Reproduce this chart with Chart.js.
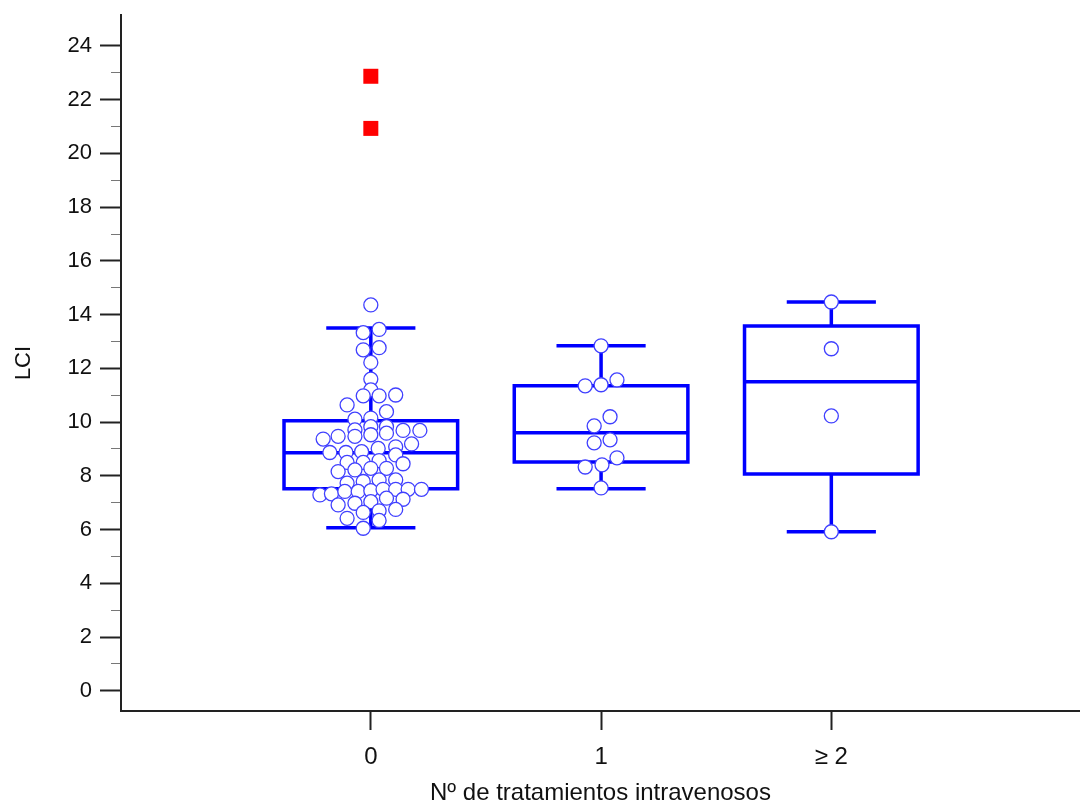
<!DOCTYPE html>
<html>
<head>
<meta charset="utf-8">
<script src="https://cdn.jsdelivr.net/npm/chart.js@4.4.1/dist/chart.umd.min.js"></script>
<style>
  html, body { margin: 0; padding: 0; background: #fff; }
  #wrap { width: 1080px; height: 802px; position: relative; }
</style>
</head>
<body>
<div id="wrap"><canvas id="lci"></canvas></div>
<script>
// categories
const groups = ['0', '1', '≥ 2'];

// box statistics per group
const q1 = [7.52, 8.52, 8.07];
const median = [8.86, 9.6, 11.5];
const q3 = [10.05, 11.35, 13.58];
const whiskerLow = [6.07, 7.52, 5.92];
const whiskerHigh = [13.5, 12.84, 14.47];

// individual LCI values (and swarm offsets) per group
const lci0 = [14.36, 13.33, 13.45, 12.69, 12.77, 12.22, 11.6, 11.2, 10.98, 10.98, 11.01,
  10.64, 10.39, 10.11, 10.15, 9.83, 9.71, 9.83, 9.53, 9.59, 9.69, 9.69, 9.37, 9.47, 9.47,
  9.19, 8.87, 8.87, 8.9, 9.02, 9.08, 8.78, 8.5, 8.5, 8.57, 8.45, 8.16, 8.22, 8.28, 8.28,
  7.73, 7.79, 7.85, 7.85, 7.29, 7.33, 7.42, 7.42, 7.45, 7.5, 7.5, 7.5, 7.5, 6.92, 6.98,
  7.04, 7.17, 7.13, 6.64, 6.7, 6.75, 6.42, 6.34, 6.05];
const swarm0 = [0, -0.033, 0.036, -0.033, 0.036, 0, 0, 0, -0.033, 0.036, 0.108,
  -0.103, 0.068, -0.069, 0, 0.068, -0.069, 0, 0, 0.068, 0.14, 0.213, -0.207, -0.142, -0.069,
  0.177, -0.178, -0.108, -0.04, 0.032, 0.108, 0.108, -0.103, -0.033, 0.036, 0.14, -0.142, -0.069, 0, 0.068,
  -0.103, -0.033, 0.036, 0.108, -0.221, -0.171, -0.113, -0.055, 0, 0.053, 0.108, 0.162, 0.22, -0.142, -0.069,
  0, 0.068, 0.14, -0.033, 0.036, 0.108, -0.103, 0.036, -0.033];
const lci1 = [12.84, 11.35, 11.39, 11.57, 10.2, 9.86, 9.23, 9.34, 8.33, 8.41, 8.67, 7.55];
const swarm1 = [0, -0.069, 0, 0.069, 0.039, -0.03, -0.03, 0.039, -0.069, 0.004, 0.069, 0];
const lci2 = [14.47, 12.73, 10.23, 5.92];
const swarm2 = [0, 0, 0, 0];

// outliers
const outlierGroup = [0, 0];
const outlierLci = [22.87, 20.93];

// y axis ticks
const yTickValues = [0, 1, 2, 3, 4, 5, 6, 7, 8, 9, 10, 11, 12, 13, 14, 15, 16, 17, 18, 19, 20, 21, 22, 23, 24];

const BLUE = '#0000ff';
const BOX_HALF = 0.377;
const CAP_HALF = 0.186;
const FONT = "'Liberation Sans', Arial, sans-serif";

function boxPath(i) {
  const gap = { x: i, y: null };
  const l = i - BOX_HALF, r = i + BOX_HALF;
  const cl = i - CAP_HALF, cr = i + CAP_HALF;
  return [
    { x: l, y: q1[i] }, { x: r, y: q1[i] }, { x: r, y: q3[i] }, { x: l, y: q3[i] }, { x: l, y: q1[i] }, gap,
    { x: l, y: median[i] }, { x: r, y: median[i] }, gap,
    { x: i, y: q3[i] }, { x: i, y: whiskerHigh[i] }, gap,
    { x: cl, y: whiskerHigh[i] }, { x: cr, y: whiskerHigh[i] }, gap,
    { x: i, y: q1[i] }, { x: i, y: whiskerLow[i] }, gap,
    { x: cl, y: whiskerLow[i] }, { x: cr, y: whiskerLow[i] }
  ];
}

function swarm(g, vals, offs) {
  return vals.map((v, k) => ({ x: g + offs[k], y: v }));
}

const pointStyle = {
  type: 'scatter',
  pointRadius: 7,
  pointHoverRadius: 7,
  pointBackgroundColor: '#ffffff',
  pointBorderColor: '#4040ff',
  pointBorderWidth: 1.3
};

const boxStyle = {
  type: 'line',
  pointRadius: 0,
  borderColor: BLUE,
  borderWidth: 3.5,
  borderCapStyle: 'square',
  spanGaps: false,
  tension: 0,
  fill: false
};

const isMinor = ctx => ctx.tick && ctx.tick.value % 2 !== 0;

new Chart(document.getElementById('lci'), {
  type: 'scatter',
  data: {
    datasets: [
      {
        type: 'scatter',
        data: outlierGroup.map((g, k) => ({ x: g, y: outlierLci[k] })),
        pointStyle: 'rect',
        pointRadius: 10.6,
        pointHoverRadius: 10.6,
        pointBackgroundColor: '#ff0000',
        pointBorderColor: '#ff0000',
        pointBorderWidth: 0
      },
      { ...pointStyle, data: swarm(0, lci0, swarm0) },
      { ...pointStyle, data: swarm(1, lci1, swarm1) },
      { ...pointStyle, data: swarm(2, lci2, swarm2) },
      { ...boxStyle, data: boxPath(0) },
      { ...boxStyle, data: boxPath(1) },
      { ...boxStyle, data: boxPath(2) }
    ]
  },
  options: {
    responsive: true,
    maintainAspectRatio: false,
    animation: false,
    layout: { autoPadding: false, padding: { top: 15, left: 0, right: 0, bottom: 0 } },
    plugins: {
      legend: { display: false },
      tooltip: { enabled: false }
    },
    scales: {
      x: {
        type: 'linear',
        position: 'bottom',
        min: -1.085,
        max: 3.08,
        afterBuildTicks: s => { s.ticks = groups.map((g, i) => ({ value: i })); },
        afterFit: s => {
          s.height = 91;
          s.paddingLeft = 0;
          s.paddingRight = 0;
        },
        ticks: {
          callback: v => groups[v],
          color: '#111',
          font: { family: FONT, size: 24 },
          padding: 13,
          maxRotation: 0,
          autoSkip: false
        },
        grid: {
          drawOnChartArea: false,
          tickLength: 19,
          tickColor: '#222',
          tickWidth: 2
        },
        border: { color: '#222', width: 2 },
        title: {
          display: true,
          text: 'Nº de tratamientos intravenosos',
          color: '#111',
          font: { family: FONT, size: 24, lineHeight: 0.7 },
          padding: { top: 0, bottom: 0 }
        }
      },
      y: {
        type: 'linear',
        min: -0.75,
        max: 25.15,
        afterBuildTicks: s => { s.ticks = yTickValues.map(v => ({ value: v })); },
        afterFit: s => {
          s.width = 121;
          s.paddingTop = 0;
          s.paddingBottom = 0;
        },
        ticks: {
          callback: v => (v % 2 === 0 ? String(v) : ''),
          color: '#111',
          font: { family: FONT, size: 22 },
          padding: 8,
          autoSkip: false
        },
        grid: {
          drawOnChartArea: false,
          tickLength: 21,
          tickColor: ctx => (isMinor(ctx) ? '#777' : '#222'),
          tickWidth: ctx => (isMinor(ctx) ? 1.2 : 2),
          tickBorderDash: ctx => (isMinor(ctx) ? [0, 11, 10, 0] : [])
        },
        border: { color: '#222', width: 2 },
        title: {
          display: true,
          text: 'LCI',
          color: '#111',
          font: { family: FONT, size: 22 },
          padding: { top: 11, bottom: 0 }
        }
      }
    }
  }
});
</script>
</body>
</html>
